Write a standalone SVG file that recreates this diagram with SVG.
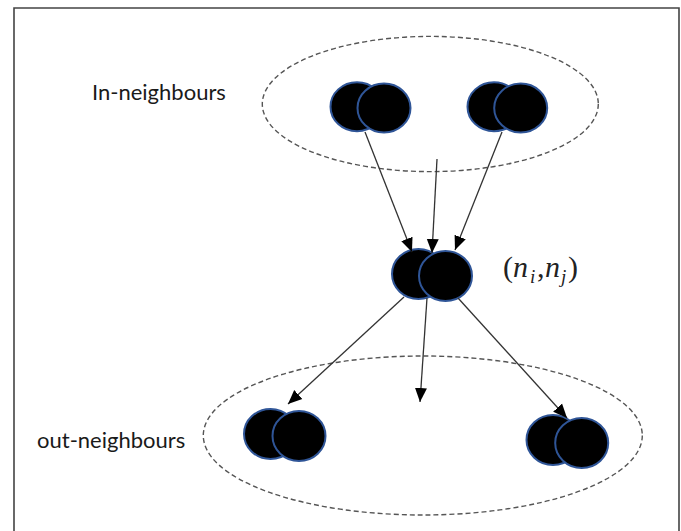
<svg xmlns="http://www.w3.org/2000/svg" width="681" height="531" viewBox="0 0 681 531">
  <style>
    .frame { fill: none; stroke: #444; stroke-width: 1.6; }
    .group { fill: none; stroke: #555; stroke-width: 1.4; stroke-dasharray: 5 3; }
    .node { fill: #000; stroke: #2F5597; stroke-width: 2; }
    .edge { fill: none; stroke: #333; stroke-width: 1.3; marker-end: url(#arrow); }
    .label { font-family: Lato, "Liberation Sans", sans-serif; font-size: 22px; fill: #1a1a1a; }
    .math { font-family: "Liberation Serif", serif; fill: #222; }
  </style>
  <defs>
    <marker id="arrow" markerUnits="userSpaceOnUse" markerWidth="15" markerHeight="15" viewBox="0 0 15 15" refX="14" refY="7.5" orient="auto">
      <path d="M0,1.5 L14,7.5 L0,13.5 Z" fill="#000"/>
    </marker>
  </defs>

  <rect width="681" height="531" fill="#fff"/>
  <path class="frame" d="M14,540 V8 H679 V540"/>

  <g id="in-group">
    <ellipse class="group" cx="430.3" cy="104" rx="168" ry="67.6"/>
  </g>
  <g id="out-group">
    <ellipse class="group" cx="422.8" cy="435.5" rx="219.5" ry="79.5"/>
  </g>

  <g id="in-neighbours-label">
    <text class="label" x="92" y="100">In-neighbours</text>
  </g>
  <g id="out-neighbours-label">
    <text class="label" x="37" y="448">out-neighbours</text>
  </g>

  <g id="in-node-1">
    <ellipse class="node" cx="357" cy="106.7" rx="26.5" ry="24.5"/>
    <ellipse class="node" cx="384" cy="108" rx="26.5" ry="24.5"/>
  </g>
  <g id="in-node-2">
    <ellipse class="node" cx="494" cy="106.7" rx="26.5" ry="24.5"/>
    <ellipse class="node" cx="520.7" cy="108" rx="26.5" ry="24.5"/>
  </g>
  <g id="center-node">
    <ellipse class="node" cx="418.5" cy="274" rx="26.5" ry="25"/>
    <ellipse class="node" cx="445.5" cy="276" rx="26.5" ry="25"/>
  </g>
  <g id="out-node-1">
    <ellipse class="node" cx="270.5" cy="434" rx="26.5" ry="25"/>
    <ellipse class="node" cx="299" cy="436" rx="26.5" ry="25"/>
  </g>
  <g id="out-node-2">
    <ellipse class="node" cx="553" cy="440" rx="26.5" ry="25"/>
    <ellipse class="node" cx="581.7" cy="443" rx="26.5" ry="25"/>
  </g>

  <g id="center-label">
    <text class="math" y="277" font-size="30"><tspan x="503">(</tspan><tspan x="513" font-style="italic">n</tspan><tspan x="530" y="283" font-size="19" font-style="italic">i</tspan><tspan x="537" y="277">,</tspan><tspan x="545" font-style="italic">n</tspan><tspan x="561" y="283" font-size="19" font-style="italic">j</tspan><tspan x="568" y="277">)</tspan></text>
  </g>

  <g id="connectors">
    <line class="edge" x1="365" y1="132" x2="412" y2="252"/>
    <line class="edge" x1="437" y1="159" x2="432" y2="253"/>
    <line class="edge" x1="502" y1="132" x2="455" y2="250"/>
    <line class="edge" x1="404" y1="297" x2="288" y2="404"/>
    <line class="edge" x1="427" y1="298" x2="420" y2="402"/>
    <line class="edge" x1="458" y1="298" x2="567" y2="418"/>
  </g>
</svg>
